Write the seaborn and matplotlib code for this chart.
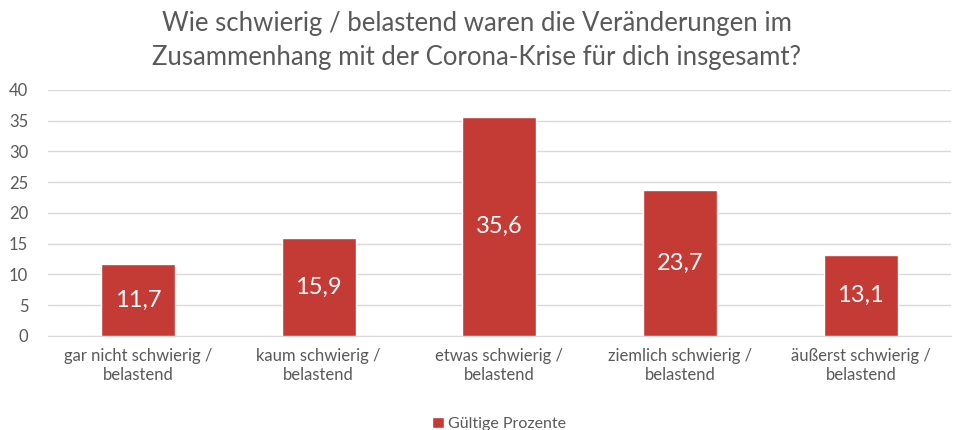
import pandas as pd
import matplotlib.pyplot as plt
import seaborn as sns

# Daten
kategorien = ['gar nicht schwierig /\nbelastend', 'kaum schwierig /\nbelastend',
              'etwas schwierig /\nbelastend', 'ziemlich schwierig /\nbelastend',
              'äußerst schwierig /\nbelastend']
prozente = [11.7, 15.9, 35.6, 23.7, 13.1]
serie = 'Gültige Prozente'
titel = 'Wie schwierig / belastend waren die Veränderungen im\nZusammenhang mit der Corona-Krise für dich insgesamt?'

df = pd.DataFrame({'Kategorie': kategorien, 'Wert': prozente, 'Serie': serie})

sns.set_style('white')
plt.rcParams['font.family'] = ['Lato', 'DejaVu Sans']
grau = '#595959'
rot = '#C43A34'

fig = plt.figure(figsize=(9.54, 4.30), dpi=100)
ax = fig.add_axes([0.05, 0.219, 0.947, 0.572])

sns.barplot(data=df, x='Kategorie', y='Wert', hue='Serie', palette=[rot],
            saturation=1, width=0.41, ax=ax, zorder=3)

ax.set_ylim(0, 40)
ax.set_yticks(range(0, 41, 5))
ax.grid(axis='y', color='#D9D9D9', linewidth=1, zorder=0)
for s in ['top', 'right', 'left']:
    ax.spines[s].set_visible(False)
ax.spines['bottom'].set_color('#D9D9D9')
ax.tick_params(axis='both', length=0, colors=grau, labelsize=12)
ax.tick_params(axis='y', pad=14)
ax.tick_params(axis='x', pad=9)
ax.set_xlabel('')
ax.set_ylabel('')

for c in ax.containers:
    ax.bar_label(c, labels=[f'{v:.1f}'.replace('.', ',') for v in prozente],
                 label_type='center', color='white', fontsize=17)

ax.legend(loc='upper center', bbox_to_anchor=(0.5, -0.27), frameon=False,
          fontsize=11.5, labelcolor=grau, handlelength=0.7, handleheight=0.7,
          handletextpad=0.3)

fig.text(0.5, 0.975, titel, ha='center', va='top', fontsize=18.5, color=grau,
         linespacing=1.45)

fig.savefig('out.png', dpi=100)
